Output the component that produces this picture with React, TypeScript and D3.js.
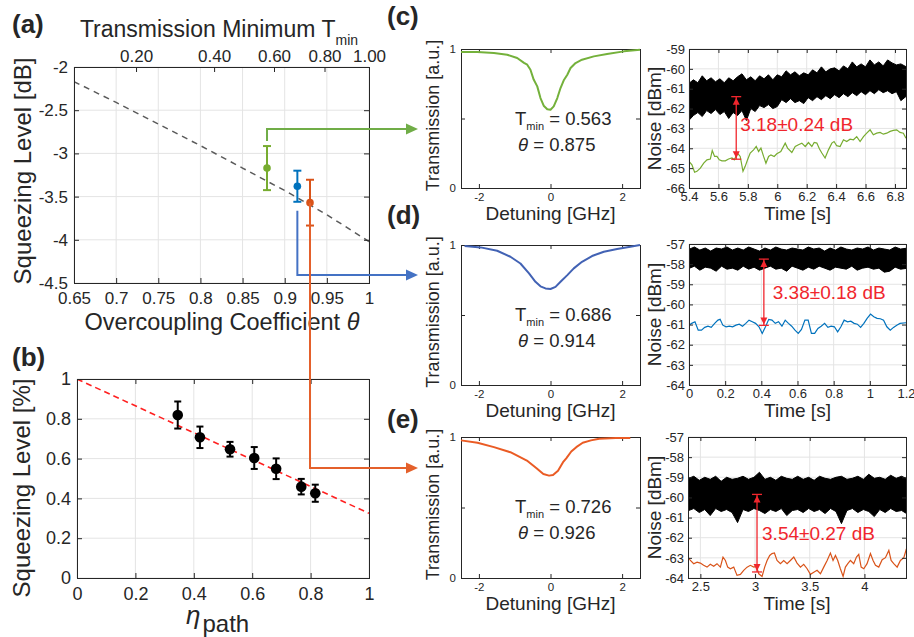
import React, { useEffect, useRef } from "react";
import * as d3 from "d3";

const FONT = "'Liberation Sans', Arial, Helvetica, sans-serif";
const AXIS = "#262626";
const GRID = "#e4e4e4";
const RED = "#f0262d";

// ---------- (a) squeezing level vs overcoupling ----------
const thetaTicks = [0.65, 0.7, 0.75, 0.8, 0.85, 0.9, 0.95, 1];
const tminTicks = [0.2, 0.4, 0.6, 0.8, 1.0];
const dbTicks = [-4.5, -4, -3.5, -3, -2.5, -2];
const theoryTheta = [0.65, 0.7, 0.75, 0.8, 0.85, 0.9, 0.95, 1.0];
const theoryDb = [-2.17, -2.41, -2.66, -2.91, -3.17, -3.43, -3.71, -4.02];
const measTheta = [0.879, 0.915, 0.93];
const measDb = [-3.17, -3.38, -3.57];
const measErr = [0.255, 0.18, 0.265];

// ---------- (b) squeezing vs path efficiency ----------
const etaTicks = [0, 0.2, 0.4, 0.6, 0.8, 1];
const pctTicks = [0, 0.2, 0.4, 0.6, 0.8, 1];
const etaPath = [0.345, 0.421, 0.524, 0.607, 0.682, 0.768, 0.816];
const sqzPct = [0.819, 0.707, 0.647, 0.603, 0.549, 0.459, 0.426];
const sqzErr = [0.068, 0.054, 0.037, 0.055, 0.052, 0.039, 0.043];
const fitEta = [0, 1];
const fitPct = [1, 0.325];

// ---------- (c)-(e) transmission dips ----------
const detC = [-2.5, -2.05, -1.58, -1.21, -0.93, -0.74, -0.65, -0.56, -0.47, -0.37, -0.28, -0.19, -0.09, 0, 0.09, 0.19, 0.28, 0.37, 0.47, 0.56, 0.7, 0.88, 1.21, 1.58, 2.05, 2.5];
const transC = [0.978, 0.978, 0.971, 0.959, 0.935, 0.9, 0.887, 0.851, 0.78, 0.731, 0.647, 0.592, 0.566, 0.563, 0.587, 0.647, 0.719, 0.775, 0.815, 0.863, 0.899, 0.923, 0.947, 0.964, 0.983, 0.995];
const detD = [-2.4, -1.95, -1.49, -1.12, -0.84, -0.6, -0.42, -0.28, -0.14, 0, 0.14, 0.28, 0.47, 0.65, 0.88, 1.16, 1.49, 1.86, 2.23, 2.5];
const transD = [0.993, 0.983, 0.959, 0.916, 0.868, 0.797, 0.737, 0.705, 0.69, 0.686, 0.701, 0.737, 0.785, 0.833, 0.88, 0.921, 0.952, 0.971, 0.988, 1.0];
const detE = [-2.5, -2.04, -1.58, -1.12, -0.66, -0.39, -0.2, -0.04, 0.07, 0.21, 0.35, 0.44, 0.58, 0.72, 0.9, 1.13, 1.36, 1.82, 2.23];
const transE = [0.976, 0.959, 0.928, 0.892, 0.833, 0.778, 0.737, 0.726, 0.73, 0.761, 0.821, 0.849, 0.897, 0.928, 0.959, 0.976, 0.988, 0.993, 0.993];
const detTicks = [-2, 0, 2];
const transTicks = [0, 0.5, 1];
const dipTmin = ["0.563", "0.686", "0.726"];
const dipTheta = ["0.875", "0.914", "0.926"];

// ---------- (c)-(e) noise traces ----------
const shotCt = [5.38, 5.43, 5.46, 5.49, 5.52, 5.55, 5.58, 5.61, 5.64, 5.67, 5.70, 5.73, 5.76, 5.79, 5.82, 5.85, 5.88, 5.91, 5.94, 5.97, 6.00, 6.03, 6.06, 6.09, 6.12, 6.15, 6.18, 6.21, 6.24, 6.27, 6.30, 6.33, 6.36, 6.39, 6.42, 6.45, 6.48, 6.51, 6.54, 6.57, 6.60, 6.63, 6.66, 6.69, 6.72, 6.75, 6.78, 6.81, 6.84, 6.89];
const shotChi = [-60.85, -60.55, -60.7, -60.35, -60.6, -60.45, -60.65, -60.5, -60.7, -60.45, -60.6, -60.4, -60.25, -60.55, -60.4, -60.6, -60.35, -60.5, -60.3, -60.55, -60.3, -60.4, -60.1, -60.3, -60.15, -60.35, -60.2, -60.3, -60.05, -60.2, -59.9, -60.15, -60.0, -59.95, -60.1, -59.85, -60.0, -59.65, -59.9, -59.75, -59.9, -59.55, -59.8, -59.65, -59.85, -59.55, -59.7, -59.8, -59.75, -59.95];
const shotClo = [-62.75, -62.35, -62.2, -62.4, -62.1, -62.25, -62.05, -62.3, -62.15, -62.5, -62.2, -62.35, -62.1, -62.6, -62.0, -62.15, -61.85, -61.95, -61.8, -62.0, -61.9, -61.55, -61.7, -61.5, -61.7, -61.6, -61.75, -61.45, -61.6, -61.4, -61.55, -61.35, -61.5, -61.3, -61.45, -61.25, -61.4, -61.2, -61.35, -61.15, -61.3, -61.1, -61.25, -61.05, -61.2, -61.1, -61.25, -61.15, -61.6, -61.3];
const sqzCt = [5.400, 5.420, 5.438, 5.454, 5.477, 5.500, 5.522, 5.545, 5.558, 5.574, 5.590, 5.606, 5.624, 5.647, 5.669, 5.692, 5.708, 5.730, 5.748, 5.767, 5.782, 5.798, 5.816, 5.839, 5.857, 5.873, 5.889, 5.907, 5.923, 5.941, 5.957, 5.979, 5.997, 6.024, 6.054, 6.070, 6.099, 6.122, 6.144, 6.167, 6.190, 6.212, 6.235, 6.251, 6.269, 6.287, 6.303, 6.325, 6.348, 6.371, 6.386, 6.404, 6.427, 6.450, 6.472, 6.495, 6.518, 6.540, 6.563, 6.586, 6.608, 6.631, 6.653, 6.676, 6.699, 6.721, 6.744, 6.767, 6.789, 6.812, 6.834, 6.857, 6.875];
const sqzCv = [-64.66, -64.83, -65.21, -65.16, -65.0, -64.75, -64.58, -64.54, -64.11, -64.41, -64.41, -64.58, -64.63, -64.63, -64.54, -64.49, -64.58, -64.24, -64.41, -65.16, -64.91, -64.58, -64.24, -64.08, -63.91, -64.16, -63.99, -64.41, -64.75, -64.41, -64.33, -64.41, -64.28, -64.16, -63.74, -63.99, -64.21, -63.91, -63.82, -63.74, -63.91, -63.71, -63.91, -63.71, -63.74, -64.04, -64.24, -64.49, -64.08, -63.74, -63.66, -63.87, -63.91, -63.57, -63.66, -63.54, -63.57, -63.41, -63.66, -63.41, -63.24, -63.07, -63.32, -63.24, -63.2, -63.29, -63.24, -63.15, -63.1, -63.07, -63.2, -63.24, -63.49];

const shotDt = [-0.01, 0.03, 0.06, 0.09, 0.12, 0.15, 0.18, 0.21, 0.24, 0.27, 0.30, 0.33, 0.36, 0.39, 0.42, 0.45, 0.48, 0.51, 0.54, 0.57, 0.60, 0.63, 0.66, 0.69, 0.72, 0.75, 0.78, 0.81, 0.84, 0.87, 0.90, 0.93, 0.96, 0.99, 1.02, 1.05, 1.08, 1.11, 1.14, 1.17, 1.21];
const shotDhi = [-57.3, -57.15, -57.3, -57.2, -57.35, -57.2, -57.25, -57.15, -57.3, -57.2, -57.3, -57.15, -57.25, -57.35, -57.2, -57.3, -57.15, -57.25, -57.3, -57.2, -57.25, -57.3, -57.15, -57.25, -57.2, -57.35, -57.2, -57.3, -57.15, -57.25, -57.3, -57.2, -57.25, -57.15, -57.3, -57.2, -57.25, -57.3, -57.15, -57.25, -57.2];
const shotDlo = [-58.25, -58.1, -58.3, -58.15, -58.2, -58.35, -58.1, -58.25, -58.2, -58.3, -58.1, -58.25, -58.15, -58.3, -58.2, -58.1, -58.25, -58.2, -58.35, -58.1, -58.2, -58.3, -58.15, -58.25, -58.1, -58.2, -58.3, -58.15, -58.2, -58.25, -58.1, -58.3, -58.2, -58.15, -58.25, -58.2, -58.4, -58.35, -58.15, -58.25, -58.2];
const sqzDt = [0, 0.015, 0.033, 0.051, 0.069, 0.087, 0.105, 0.123, 0.142, 0.160, 0.172, 0.187, 0.205, 0.223, 0.241, 0.260, 0.278, 0.296, 0.314, 0.332, 0.350, 0.368, 0.387, 0.405, 0.423, 0.441, 0.459, 0.477, 0.495, 0.514, 0.532, 0.550, 0.568, 0.586, 0.604, 0.622, 0.641, 0.659, 0.677, 0.695, 0.713, 0.731, 0.750, 0.768, 0.786, 0.804, 0.822, 0.840, 0.858, 0.877, 0.895, 0.913, 0.931, 0.949, 0.967, 0.985, 1.004, 1.022, 1.040, 1.058, 1.076, 1.094, 1.113, 1.131, 1.149, 1.167, 1.2];
const sqzDv = [-61.03, -60.94, -60.86, -61.28, -61.28, -61.14, -61.08, -61.14, -60.94, -60.78, -60.74, -61.03, -61.11, -61.08, -61.11, -61.03, -60.98, -61.08, -60.94, -60.78, -60.86, -60.94, -61.11, -61.44, -61.11, -60.74, -60.78, -60.94, -60.86, -61.08, -60.78, -60.94, -61.08, -61.28, -61.44, -61.24, -60.78, -60.78, -61.44, -61.44, -61.19, -61.08, -60.94, -61.14, -61.08, -61.11, -61.36, -61.11, -60.78, -60.86, -60.83, -60.94, -60.98, -61.14, -60.94, -60.69, -60.48, -60.61, -60.69, -60.71, -60.78, -61.11, -61.28, -61.14, -61.03, -60.94, -60.91];

const shotEt = [2.37, 2.44, 2.49, 2.54, 2.59, 2.64, 2.69, 2.74, 2.79, 2.84, 2.89, 2.94, 2.99, 3.04, 3.09, 3.14, 3.19, 3.24, 3.29, 3.34, 3.39, 3.44, 3.49, 3.54, 3.59, 3.64, 3.69, 3.74, 3.79, 3.84, 3.89, 3.94, 3.99, 4.04, 4.09, 4.14, 4.19, 4.24, 4.29, 4.34, 4.40];
const shotEhi = [-59.1, -58.95, -59.15, -59.0, -59.1, -58.95, -59.2, -59.0, -59.1, -59.05, -58.95, -59.1, -59.0, -58.75, -59.1, -59.0, -59.15, -58.95, -59.05, -59.1, -58.95, -59.1, -59.0, -59.15, -58.95, -59.05, -59.1, -59.0, -58.95, -59.1, -59.05, -58.95, -59.1, -58.85, -59.05, -59.0, -59.1, -58.9, -59.05, -58.95, -59.1];
const shotElo = [-60.7, -60.55, -60.75, -60.6, -60.9, -60.55, -60.7, -60.6, -60.75, -61.25, -60.6, -60.7, -60.55, -60.65, -60.8, -60.6, -60.7, -60.55, -60.9, -60.65, -60.6, -60.75, -60.55, -60.7, -60.6, -60.8, -60.55, -60.7, -61.3, -60.65, -60.55, -60.75, -60.6, -60.7, -60.95, -60.6, -60.75, -60.55, -60.7, -60.65, -60.85];
const sqzEt = [2.387, 2.409, 2.439, 2.470, 2.500, 2.530, 2.561, 2.591, 2.622, 2.652, 2.683, 2.707, 2.729, 2.750, 2.774, 2.805, 2.835, 2.866, 2.896, 2.927, 2.957, 2.988, 3.012, 3.034, 3.064, 3.088, 3.110, 3.134, 3.155, 3.177, 3.201, 3.232, 3.262, 3.293, 3.323, 3.354, 3.384, 3.415, 3.445, 3.476, 3.506, 3.537, 3.567, 3.598, 3.628, 3.659, 3.689, 3.713, 3.735, 3.756, 3.780, 3.805, 3.826, 3.848, 3.872, 3.902, 3.927, 3.948, 3.970, 3.994, 4.024, 4.055, 4.079, 4.101, 4.131, 4.162, 4.192, 4.223, 4.244, 4.268, 4.299, 4.329, 4.360, 4.384];
const sqzEv = [-62.96, -63.13, -63.29, -63.21, -63.26, -63.37, -63.46, -63.32, -63.42, -63.29, -63.46, -62.96, -63.13, -63.46, -63.54, -63.46, -63.87, -63.82, -63.62, -63.46, -63.37, -63.46, -63.42, -63.79, -63.92, -63.46, -63.13, -62.88, -62.79, -62.76, -63.13, -63.29, -63.13, -63.29, -63.13, -62.96, -63.26, -63.46, -63.32, -63.54, -63.82, -63.71, -63.62, -63.79, -63.46, -63.13, -62.76, -63.13, -62.88, -63.13, -63.54, -63.92, -63.46, -63.29, -63.13, -63.29, -62.96, -62.83, -63.46, -63.54, -63.29, -62.79, -63.13, -63.37, -63.46, -63.09, -62.99, -62.63, -63.13, -63.29, -63.46, -63.13, -62.99, -62.55];

const timeTicksC = [5.4, 5.6, 5.8, 6, 6.2, 6.4, 6.6, 6.8];
const timeTicksD = [0, 0.2, 0.4, 0.6, 0.8, 1, 1.2];
const timeTicksE = [2.5, 3, 3.5, 4];
const noiseTicksC = [-66, -65, -64, -63, -62, -61, -60, -59];
const noiseTicksDE = [-64, -63, -62, -61, -60, -59, -58, -57];
// squeezing markers: time, top level, bottom level
const gapTime = [5.721, 0.414, 3.018];
const gapTop = [-61.4, -57.75, -59.85];
const gapBot = [-64.55, -61.04, -63.7];
const gapLabel = ["3.18\u00b10.24 dB", "3.38\u00b10.18 dB", "3.54\u00b10.27 dB"];
const gapLabelT = [5.748, 0.463, 3.064];
const gapLabelV = [-63.15, -59.73, -62.1];

// ---------- layout ----------
const boxA = { l: 74, r: 369, t: 67, b: 283 };
const boxB = { l: 77, r: 369, t: 379, b: 578 };
const transBoxes = [
  { l: 461, r: 640, t: 49, b: 188 },
  { l: 461, r: 640, t: 245, b: 385 },
  { l: 461, r: 640, t: 437, b: 578 },
];
const noiseBoxes = [
  { l: 689, r: 906, t: 49, b: 188 },
  { l: 689, r: 906, t: 244, b: 385 },
  { l: 688, r: 906, t: 437, b: 578 },
];
const measColor = ["#77AC30", "#0072BD", "#D95319"];
const dipColor = ["#74B13B", "#4262B4", "#EA5B24"];
const linkColor = ["#70AD47", "#4472C4", "#E4602B"];
const linkRow = [129, 275, 468];
const linkTip = 418;

const trim = (d: number) => String(+d.toFixed(3));

function axes(root: any, o: any) {
  const x = d3.scaleLinear().domain(o.xDom).range([o.box.l, o.box.r]);
  const y = d3.scaleLinear().domain(o.yDom).range([o.box.b, o.box.t]);
  root.select("defs").append("clipPath").attr("id", o.id).append("rect")
    .attr("x", o.box.l).attr("y", o.box.t)
    .attr("width", o.box.r - o.box.l).attr("height", o.box.b - o.box.t);
  const g = root.append("g");
  if (o.grid) {
    const gg = g.append("g").attr("stroke", GRID).attr("stroke-width", 1);
    gg.selectAll(".gx").data(o.xTicks).join("line").attr("class", "gx")
      .attr("x1", (d: number) => x(d)).attr("x2", (d: number) => x(d))
      .attr("y1", o.box.t).attr("y2", o.box.b);
    gg.selectAll(".gy").data(o.yTicks).join("line").attr("class", "gy")
      .attr("y1", (d: number) => y(d)).attr("y2", (d: number) => y(d))
      .attr("x1", o.box.l).attr("x2", o.box.r);
  }
  const plot = g.append("g").attr("clip-path", `url(#${o.id})`);
  const front = g.append("g");
  const fx = o.xFmt || trim;
  const fy = o.yFmt || trim;
  const style = (s: any) => {
    s.select(".domain").remove();
    s.attr("font-family", FONT).attr("font-size", o.font);
    s.selectAll("line").attr("stroke", AXIS);
    s.selectAll("text").attr("fill", AXIS);
  };
  front.append("g").attr("transform", `translate(0,${o.box.b})`)
    .call(d3.axisBottom(x).tickValues(o.xTicks).tickSizeInner(-o.tick).tickSizeOuter(0)
      .tickPadding(o.padX).tickFormat((d: any) => fx(+d)))
    .call(style);
  front.append("g").attr("transform", `translate(0,${o.box.t})`)
    .call(d3.axisTop(x).tickValues(o.top ? o.top.ticks : o.xTicks).tickSizeInner(-o.tick).tickSizeOuter(0)
      .tickPadding(o.top ? o.top.pad : 3).tickFormat((d: any) => (o.top ? o.top.fmt(+d) : "")))
    .call(style);
  front.append("g").attr("transform", `translate(${o.box.l},0)`)
    .call(d3.axisLeft(y).tickValues(o.yTicks).tickSizeInner(-o.tick).tickSizeOuter(0)
      .tickPadding(o.padY).tickFormat((d: any) => fy(+d)))
    .call(style);
  front.append("g").attr("transform", `translate(${o.box.r},0)`)
    .call(d3.axisRight(y).tickValues(o.yTicks).tickSizeInner(-o.tick).tickSizeOuter(0).tickFormat(() => ""))
    .call(style);
  front.append("rect").attr("x", o.box.l + 0.5).attr("y", o.box.t + 0.5)
    .attr("width", o.box.r - o.box.l).attr("height", o.box.b - o.box.t)
    .attr("fill", "none").attr("stroke", AXIS).attr("stroke-width", 1);
  return { x, y, plot, front };
}

function label(g: any, txt: string, x: number, y: number, size: number, rotate = false) {
  const t = g.append("text").attr("x", x).attr("y", y).attr("font-size", size)
    .attr("font-family", FONT).attr("fill", AXIS).attr("text-anchor", "middle").text(txt);
  if (rotate) t.attr("transform", `rotate(-90,${x},${y})`);
  return t;
}

function errorBars(g: any, xs: number[], ys: number[], es: number[], sx: any, sy: any,
  colors: string[], r: number, cap: number, w: number) {
  xs.forEach((v, i) => {
    const X = sx(v);
    const c = colors[i % colors.length];
    const y1 = sy(ys[i] + es[i]);
    const y2 = sy(ys[i] - es[i]);
    g.append("line").attr("x1", X).attr("x2", X).attr("y1", y1).attr("y2", y2)
      .attr("stroke", c).attr("stroke-width", w);
    [y1, y2].forEach((yy) => g.append("line").attr("x1", X - cap).attr("x2", X + cap)
      .attr("y1", yy).attr("y2", yy).attr("stroke", c).attr("stroke-width", w));
    g.append("circle").attr("cx", X).attr("cy", sy(ys[i])).attr("r", r).attr("fill", c);
  });
}

function draw(svg: any) {
  svg.append("defs");
  svg.append("rect").attr("width", 914).attr("height", 637).attr("fill", "#fff");

  // ---- (a)
  const thetaOf = (T: number) => (1 + Math.sqrt(T)) / 2;
  const A = axes(svg, {
    id: "clipA", box: boxA, xDom: [0.65, 1], yDom: [-4.5, -2],
    xTicks: thetaTicks, yTicks: dbTicks, grid: true, font: 17, tick: 5, padX: 9, padY: 6,
    top: { ticks: tminTicks.map(thetaOf), fmt: (d: number) => d3.format(".2f")(Math.pow(2 * d - 1, 2)), pad: 5 },
  });
  const lineA = d3.line<number>().x((d) => A.x(d)).y((_, i) => A.y(theoryDb[i]));
  A.plot.append("path").attr("d", lineA(theoryTheta)).attr("fill", "none")
    .attr("stroke", "#5a5a5a").attr("stroke-width", 1.5).attr("stroke-dasharray", "6 5");
  errorBars(A.front, measTheta, measDb, measErr, A.x, A.y, measColor, 3.8, 4, 2);
  const topTitle = svg.append("text").attr("x", 219).attr("y", 37).attr("font-family", FONT)
    .attr("font-size", 23).attr("fill", AXIS).attr("text-anchor", "middle");
  topTitle.append("tspan").text("Transmission Minimum T");
  topTitle.append("tspan").attr("font-size", 14).attr("dy", 8).text("min");
  const xTitle = svg.append("text").attr("x", 222).attr("y", 330).attr("font-family", FONT)
    .attr("font-size", 23.5).attr("fill", AXIS).attr("text-anchor", "middle");
  xTitle.append("tspan").text("Overcoupling Coefficient ");
  xTitle.append("tspan").attr("font-style", "italic").text("\u03b8");
  label(svg, "Squeezing Level [dB]", 31, 171, 24, true);

  // ---- (b)
  const B = axes(svg, {
    id: "clipB", box: boxB, xDom: [0, 1], yDom: [0, 1],
    xTicks: etaTicks, yTicks: pctTicks, grid: true, font: 18, tick: 5, padX: 9, padY: 6,
  });
  const lineB = d3.line<number>().x((d) => B.x(d)).y((_, i) => B.y(fitPct[i]));
  B.plot.append("path").attr("d", lineB(fitEta)).attr("fill", "none")
    .attr("stroke", "#ff2020").attr("stroke-width", 1.6).attr("stroke-dasharray", "6 4");
  errorBars(B.plot, etaPath, sqzPct, sqzErr, B.x, B.y, ["#000"], 5.3, 3.5, 2);
  label(svg, "Squeezing Level [%]", 30, 488, 24, true);
  const etaTitle = svg.append("text").attr("x", 186).attr("y", 624).attr("font-family", FONT).attr("fill", AXIS);
  etaTitle.append("tspan").attr("font-size", 26).attr("font-style", "italic").text("\u03b7");
  etaTitle.append("tspan").attr("font-size", 24).attr("dx", 2).attr("dy", 8).text("path");

  // ---- (c)-(e) transmission
  const dets = [detC, detD, detE];
  const trs = [transC, transD, transE];
  transBoxes.forEach((box, k) => {
    const T = axes(svg, {
      id: "clipT" + k, box, xDom: [-2.5, 2.5], yDom: [0, 1],
      xTicks: detTicks, yTicks: transTicks, grid: false, font: 11.5, tick: 4, padX: 5, padY: 5,
      yFmt: (d: number) => (d === 0.5 ? "" : trim(d)),
    });
    const ln = d3.line<number>().x((d) => T.x(d)).y((_, i) => T.y(trs[k][i]));
    T.front.append("path").attr("d", ln(dets[k])).attr("fill", "none")
      .attr("stroke", dipColor[k]).attr("stroke-width", 2).attr("stroke-linejoin", "round");
    const t1 = T.front.append("text").attr("x", box.l + 54).attr("y", box.t + 76)
      .attr("font-family", FONT).attr("font-size", 18.5).attr("fill", AXIS);
    t1.append("tspan").text("T");
    t1.append("tspan").attr("font-size", 11).attr("dy", 5).text("min");
    t1.append("tspan").attr("dy", -5).text(" = " + dipTmin[k]);
    const t2 = T.front.append("text").attr("x", box.l + 57).attr("y", box.t + 102)
      .attr("font-family", FONT).attr("font-size", 18.5).attr("fill", AXIS);
    t2.append("tspan").attr("font-style", "italic").text("\u03b8");
    t2.append("tspan").text(" = " + dipTheta[k]);
    label(svg, "Transmission [a.u.]", 439, (box.t + box.b) / 2 - 3, 18, true);
    label(svg, "Detuning [GHz]", (box.l + box.r) / 2, box.b + 32, 19);
  });

  // ---- (c)-(e) noise
  const nt = [
    { dom: [5.4, 6.875], yd: [-66, -59], xt: timeTicksC, yt: noiseTicksC, st: shotCt, hi: shotChi, lo: shotClo, qt: sqzCt, qv: sqzCv },
    { dom: [0, 1.2], yd: [-64, -57], xt: timeTicksD, yt: noiseTicksDE, st: shotDt, hi: shotDhi, lo: shotDlo, qt: sqzDt, qv: sqzDv },
    { dom: [2.387, 4.38], yd: [-64, -57], xt: timeTicksE, yt: noiseTicksDE, st: shotEt, hi: shotEhi, lo: shotElo, qt: sqzEt, qv: sqzEv },
  ];
  noiseBoxes.forEach((box, k) => {
    const s = nt[k];
    const N = axes(svg, {
      id: "clipN" + k, box, xDom: s.dom, yDom: s.yd,
      xTicks: s.xt, yTicks: s.yt, grid: true, font: 13, tick: 4, padX: 3.5, padY: 4,
    });
    const band = d3.area<number>().x((d) => N.x(d)).y0((_, i) => N.y(s.lo[i])).y1((_, i) => N.y(s.hi[i]));
    N.plot.append("path").attr("d", band(s.st)).attr("fill", "#000")
      .attr("stroke", "#000").attr("stroke-width", 1);
    const ln = d3.line<number>().x((d) => N.x(d)).y((_, i) => N.y(s.qv[i]));
    N.plot.append("path").attr("d", ln(s.qt)).attr("fill", "none")
      .attr("stroke", measColor[k]).attr("stroke-width", 1.2);
    // squeezing gap marker
    const X = N.x(gapTime[k]);
    const y1 = N.y(gapTop[k]);
    const y2 = N.y(gapBot[k]);
    const m = N.front.append("g").attr("stroke", RED).attr("fill", RED);
    m.append("line").attr("x1", X).attr("x2", X).attr("y1", y1).attr("y2", y2).attr("stroke-width", 1.3);
    [y1, y2].forEach((yy) => m.append("line").attr("x1", X - 5).attr("x2", X + 5)
      .attr("y1", yy).attr("y2", yy).attr("stroke-width", 1.3));
    m.append("path").attr("stroke", "none")
      .attr("d", `M${X},${y1 + 1}L${X - 3.5},${y1 + 8}L${X + 3.5},${y1 + 8}Z M${X},${y2 - 1}L${X - 3.5},${y2 - 8}L${X + 3.5},${y2 - 8}Z`);
    N.front.append("text").attr("x", N.x(gapLabelT[k])).attr("y", N.y(gapLabelV[k]))
      .attr("font-family", FONT).attr("font-size", 19).attr("fill", RED).text(gapLabel[k]);
    label(svg, "Noise [dBm]", 661, (box.t + box.b) / 2, 19, true);
    label(svg, "Time [s]", (box.l + box.r) / 2, box.b + 32, 19);
  });

  // ---- connectors from (a) to (c)-(e)
  measTheta.forEach((t, i) => {
    const X = A.x(t);
    const start = i === 0 ? A.y(measDb[i] + measErr[i]) - 5
      : i === 1 ? A.y(measDb[i] - measErr[i]) + 9 : A.y(measDb[i]);
    const Y = linkRow[i];
    svg.append("path").attr("d", `M${X},${start}V${Y}H${linkTip - 10}`)
      .attr("fill", "none").attr("stroke", linkColor[i]).attr("stroke-width", 2);
    svg.append("path").attr("d", `M${linkTip},${Y}L${linkTip - 12},${Y - 5.5}L${linkTip - 12},${Y + 5.5}Z`)
      .attr("fill", linkColor[i]);
  });

  // ---- panel letters
  const letters: [string, number, number][] = [
    ["(a)", 12, 33], ["(b)", 12, 366], ["(c)", 387, 25], ["(d)", 387, 224], ["(e)", 387, 428],
  ];
  letters.forEach(([s, x, y]) => svg.append("text").attr("x", x).attr("y", y)
    .attr("font-family", FONT).attr("font-weight", "bold").attr("font-size", 26)
    .attr("fill", AXIS).text(s));
}

export default function App() {
  const ref = useRef<SVGSVGElement>(null);
  useEffect(() => {
    const svg = d3.select(ref.current);
    svg.selectAll("*").remove();
    draw(svg);
  }, []);
  return (
    <svg ref={ref} width={914} height={637}
      style={{ position: "absolute", left: 0, top: 0, display: "block" }} />
  );
}
